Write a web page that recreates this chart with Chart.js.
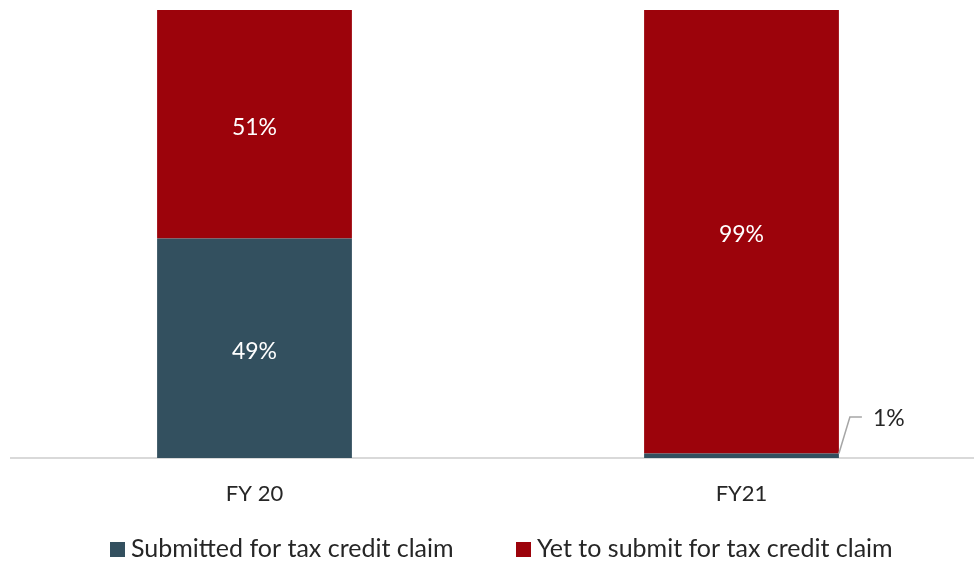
<!DOCTYPE html>
<html>
<head>
<meta charset="utf-8">
<script src="https://cdn.jsdelivr.net/npm/chart.js@4/dist/chart.umd.min.js"></script>
<style>
  html, body { margin: 0; padding: 0; background: #ffffff; overflow: hidden; }
  canvas { display: block; }
</style>
</head>
<body>
<canvas id="chart" width="985" height="565"></canvas>
<script>
// Share of claims by fiscal year (percent)
const categories = ['FY 20', 'FY21'];
const submitted = [49, 1];
const yetToSubmit = [51, 99];
const seriesNames = ['Submitted for tax credit claim', 'Yet to submit for tax credit claim'];
const seriesColors = ['#33505f', '#9c030b'];

const FONT = 'Lato, "Open Sans", sans-serif';
const TEXT_COLOR = '#262626';

// Value labels: inside each segment in white, small segments get a leader line to the right
const valueLabels = {
  id: 'valueLabels',
  afterDatasetsDraw(chart) {
    const ctx = chart.ctx;
    ctx.save();
    ctx.font = '23px ' + FONT;
    ctx.textBaseline = 'middle';
    chart.data.datasets.forEach((ds, di) => {
      const meta = chart.getDatasetMeta(di);
      meta.data.forEach((bar, i) => {
        const v = ds.data[i];
        const txt = v + '%';
        const top = Math.min(bar.y, bar.base);
        const bottom = Math.max(bar.y, bar.base);
        const h = bottom - top;
        if (h > 30) {
          ctx.fillStyle = '#ffffff';
          ctx.textAlign = 'center';
          ctx.fillText(txt, bar.x, (top + bottom) / 2 + 3);
        } else {
          const right = bar.x + bar.width / 2;
          const ly = bottom - 41;
          ctx.strokeStyle = '#a6a6a6';
          ctx.lineWidth = 1.5;
          ctx.beginPath();
          ctx.moveTo(right, top);
          ctx.lineTo(right + 11, ly);
          ctx.lineTo(right + 23, ly);
          ctx.stroke();
          ctx.fillStyle = TEXT_COLOR;
          ctx.textAlign = 'left';
          ctx.fillText(txt, right + 34, ly + 2);
        }
      });
    });
    ctx.restore();
  }
};

// Legend row along the bottom edge
const bottomLegend = {
  id: 'bottomLegend',
  afterDraw(chart) {
    const ctx = chart.ctx;
    ctx.save();
    ctx.font = '25px ' + FONT;
    ctx.textBaseline = 'middle';
    ctx.textAlign = 'left';
    const y = 549;
    const starts = [110, 516];
    chart.data.datasets.forEach((ds, di) => {
      const x = starts[di];
      ctx.fillStyle = ds.backgroundColor;
      ctx.fillRect(x, y - 7, 15, 15);
      ctx.fillStyle = TEXT_COLOR;
      ctx.fillText(ds.label, x + 21, y);
    });
    ctx.restore();
  }
};

new Chart(document.getElementById('chart'), {
  type: 'bar',
  data: {
    labels: categories,
    datasets: [
      { label: seriesNames[0], data: submitted, backgroundColor: seriesColors[0] },
      { label: seriesNames[1], data: yetToSubmit, backgroundColor: seriesColors[1] }
    ]
  },
  options: {
    responsive: false,
    animation: false,
    events: [],
    layout: { padding: { left: 11, right: 0, top: 10, bottom: 0 } },
    datasets: { bar: { categoryPercentage: 1, barPercentage: 0.4, borderWidth: 0 } },
    plugins: {
      legend: { display: false },
      tooltip: { enabled: false }
    },
    scales: {
      x: {
        stacked: true,
        grid: { display: false, drawTicks: false },
        border: { display: true, color: '#d9d9d9', width: 2 },
        ticks: { color: TEXT_COLOR, font: { family: FONT, size: 22 }, padding: 23 },
        afterFit(scale) { scale.height = 565 - 458; }
      },
      y: {
        stacked: true,
        display: false,
        min: 0,
        max: 100
      }
    }
  },
  plugins: [valueLabels, bottomLegend]
});
</script>
</body>
</html>
